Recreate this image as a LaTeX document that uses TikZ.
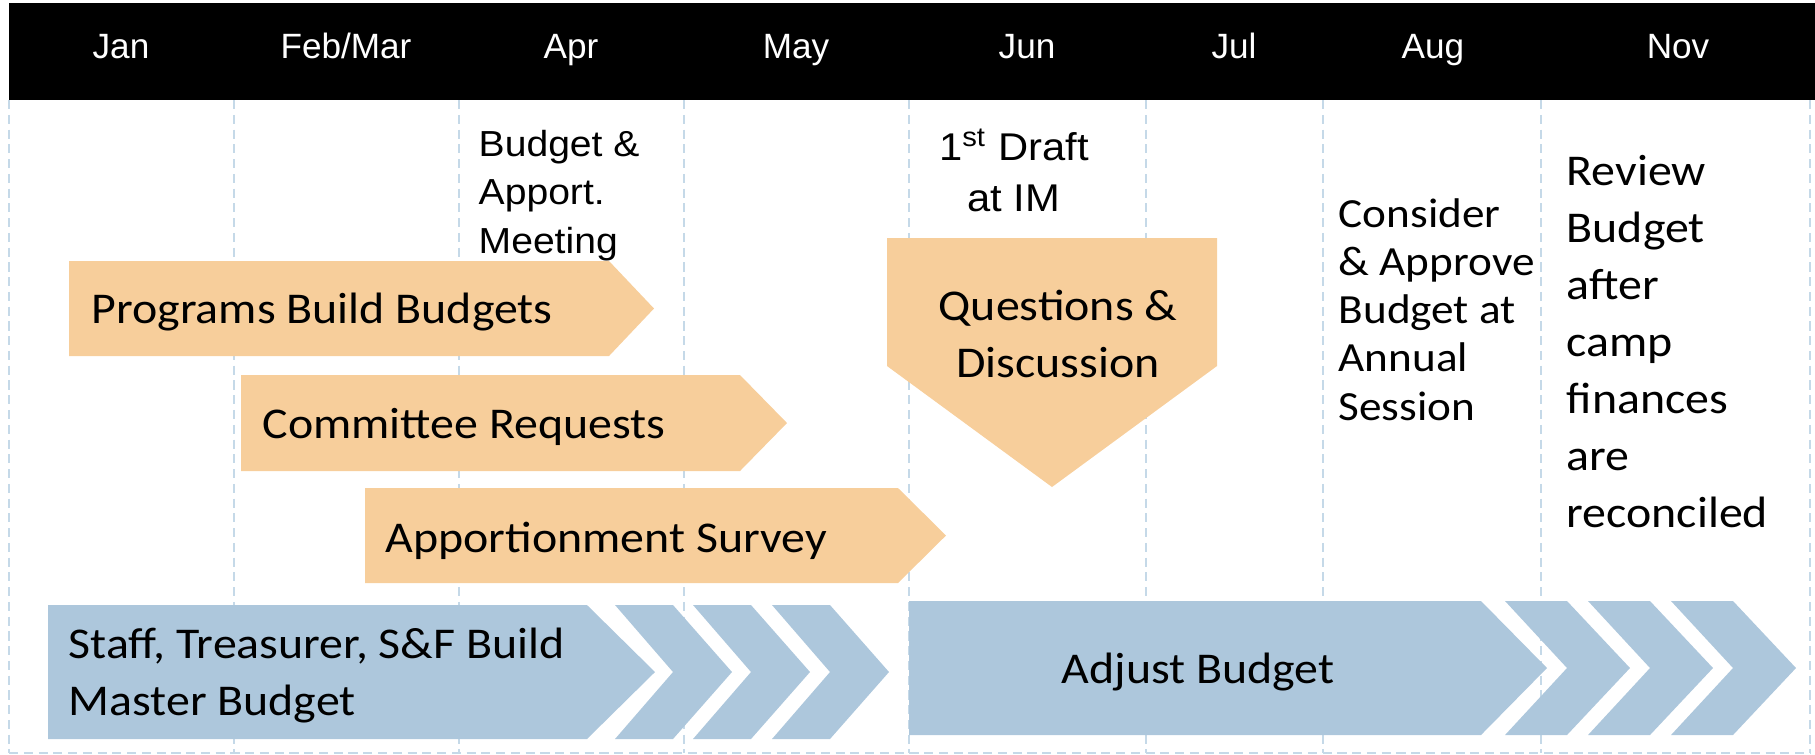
\documentclass[tikz,border=0pt]{standalone}
\usepackage{fontspec}
\setmainfont[FakeStretch=1.09]{Carlito}
\newfontfamily\monthfont{Liberation Sans}
\newfontfamily\notefont[FakeStretch=1.08]{Liberation Sans}
\usepackage{xcolor}
\usetikzlibrary{positioning}

\definecolor{barorange}{HTML}{F7CE9B}
\definecolor{barblue}{HTML}{ADC7DC}
\definecolor{gridblue}{HTML}{C5D9E8}

\begin{document}
\begin{tikzpicture}[scale=0.1]
    \tikzstyle{every node}+=[inner sep=0pt]
    \tikzstyle{gridline}=[draw=gridblue, line width=0.6pt, dash pattern=on 2.6pt off 1.6pt]
    \tikzstyle{month}=[text=white, font=\monthfont\fontsize{10}{12}\selectfont, anchor=base]
    \tikzstyle{barlabel}=[font=\fontsize{12.5}{16.2}\selectfont, anchor=base west, align=left]
    \tikzstyle{sidenote}=[font=\notefont\fontsize{10.3}{13.7}\selectfont, anchor=base west, align=left]
    \useasboundingbox (0,0) rectangle (181.5,-75.4);
    % month columns
    \draw [gridline] (0.9,-10) -- (0.9,-75.3);
    \draw [gridline] (23.4,-10) -- (23.4,-75.3);
    \draw [gridline] (45.9,-10) -- (45.9,-75.3);
    \draw [gridline] (68.4,-10) -- (68.4,-75.3);
    \draw [gridline] (90.9,-10) -- (90.9,-75.3);
    \draw [gridline] (114.6,-10) -- (114.6,-75.3);
    \draw [gridline] (132.3,-10) -- (132.3,-75.3);
    \draw [gridline] (154.1,-10) -- (154.1,-75.3);
    \draw [gridline] (181,-10) -- (181,-75.3);
    \draw [gridline] (0.9,-75.3) -- (181,-75.3);
    \fill [black] (0.9,-0.3) rectangle (181.5,-10);
    \node [month] (jan) at (12.1,-5.8) {Jan};
    \node [month] (febmar) at (34.6,-5.8) {Feb/Mar};
    \node [month] (apr) at (57.1,-5.8) {Apr};
    \node [month] (may) at (79.6,-5.8) {May};
    \node [month] (jun) at (102.7,-5.8) {Jun};
    \node [month] (jul) at (123.4,-5.8) {Jul};
    \node [month] (aug) at (143.3,-5.8) {Aug};
    \node [month] (nov) at (167.8,-5.8) {Nov};
    % orange steps
    \fill [barorange] (6.9,-26.1) -- (60.9,-26.1) -- (65.4,-30.85) -- (60.9,-35.6) -- (6.9,-35.6) -- cycle;
    \fill [barorange] (24.1,-37.5) -- (74,-37.5) -- (78.7,-42.3) -- (74,-47.1) -- (24.1,-47.1) -- cycle;
    \fill [barorange] (36.5,-48.8) -- (89.8,-48.8) -- (94.6,-53.55) -- (89.8,-58.3) -- (36.5,-58.3) -- cycle;
    \fill [barorange] (88.7,-23.8) -- (121.7,-23.8) -- (121.7,-36.6) -- (105.2,-48.7) -- (88.7,-36.6) -- cycle;
    \node [barlabel] (programs) at (9.1,-32.3) {Programs Build Budgets};
    \node [barlabel] (committee) at (26.2,-43.8) {Committee Requests};
    \node [barlabel] (survey) at (38.5,-55.2) {Apportionment Survey};
    \node [barlabel, anchor=base, align=center] (questions) at (105.8,-37.7) {Questions \&\\Discussion};
    % blue arrows
    \fill [barblue] (4.8,-60.5) -- (58.7,-60.5) -- (65.5,-67.2) -- (58.7,-73.9) -- (4.8,-73.9) -- cycle;
    \fill [barblue] (61.5,-60.5) -- ++(5.8,0) -- ++(5.9,-6.7) -- ++(-5.9,-6.7) -- ++(-5.8,0) -- ++(5.8,6.7) -- cycle;
    \fill [barblue] (69.3,-60.5) -- ++(5.8,0) -- ++(5.9,-6.7) -- ++(-5.9,-6.7) -- ++(-5.8,0) -- ++(5.8,6.7) -- cycle;
    \fill [barblue] (77.2,-60.5) -- ++(5.8,0) -- ++(5.9,-6.7) -- ++(-5.9,-6.7) -- ++(-5.8,0) -- ++(5.8,6.7) -- cycle;
    \fill [barblue] (90.9,-60.1) -- (148.1,-60.1) -- (154.7,-66.8) -- (148.1,-73.5) -- (90.9,-73.5) -- cycle;
    \fill [barblue] (150.5,-60.1) -- ++(6.2,0) -- ++(6.3,-6.7) -- ++(-6.3,-6.7) -- ++(-6.2,0) -- ++(6.2,6.7) -- cycle;
    \fill [barblue] (158.8,-60.1) -- ++(6.2,0) -- ++(6.3,-6.7) -- ++(-6.3,-6.7) -- ++(-6.2,0) -- ++(6.2,6.7) -- cycle;
    \fill [barblue] (167.1,-60.1) -- ++(6.2,0) -- ++(6.3,-6.7) -- ++(-6.3,-6.7) -- ++(-6.2,0) -- ++(6.2,6.7) -- cycle;
    \node [barlabel] (master) at (6.8,-71.5) {Staff, Treasurer, S\&F Build\\Master Budget};
    \node [barlabel, anchor=base] (adjust) at (119.8,-68.3) {Adjust Budget};
    % notes above the steps
    \node [sidenote] (meeting) at (47.8,-25.3) {Budget \&\\Apport.\\Meeting};
    \node [sidenote, font=\notefont\fontsize{11}{14.5}\selectfont, anchor=base, align=center] (draft) at (101.4,-21.1) {1\textsuperscript{st} Draft\\at IM};
    \node [barlabel, font=\fontsize{11.8}{13.7}\selectfont] (annual) at (133.8,-42) {Consider\\\& Approve\\Budget at\\Annual\\Session};
    \node [barlabel] (review) at (156.6,-52.7) {Review\\Budget\\after\\camp\\finances\\are\\reconciled};
\end{tikzpicture}
\end{document}
